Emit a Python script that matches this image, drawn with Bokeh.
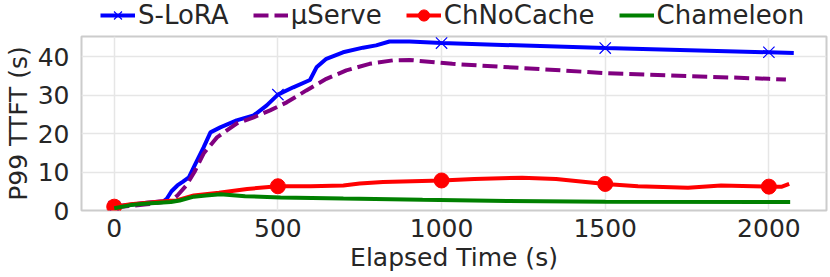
from bokeh.plotting import figure
from bokeh.layouts import column
from bokeh.models import Range1d, Legend, LegendItem
from bokeh.embed import file_html
from bokeh.resources import INLINE

# ---------------- data ----------------
slora_x = [0, 50, 100, 150, 160, 175, 193, 210, 228, 248, 273, 294, 324, 374, 426, 466,
           500, 547, 598, 618, 648, 699, 760, 800, 841, 902, 1000, 1500, 2000, 2076]
slora_y = [1.0, 1.5, 2.0, 2.4, 3.0, 5.0, 6.5, 7.5, 8.6, 12.1, 16.4, 20.3, 21.6, 23.4, 24.7, 27.3,
           30.1, 32.0, 33.9, 37.2, 39.4, 41.1, 42.3, 42.9, 43.9, 43.9, 43.5, 42.2, 41.1, 40.9]

muserve_x = [0, 100, 150, 175, 193, 220, 245, 273, 314, 374, 426, 476, 527, 587, 648, 709,
             780, 851, 902, 1033, 1500, 2000, 2052]
muserve_y = [0.8, 1.6, 2.2, 2.6, 3.9, 6.5, 10.0, 14.8, 19.0, 22.6, 24.2, 26.0, 28.1, 31.2, 34.2, 36.4,
             38.1, 39.0, 39.1, 38.1, 35.7, 34.2, 34.0]

chnocache_x = [0, 50, 100, 150, 190, 243, 320, 406, 500, 600, 700, 750, 821, 1000, 1100, 1246,
               1350, 1500, 1600, 1753, 1854, 2000, 2040, 2062]
chnocache_y = [1.0, 1.6, 2.0, 2.4, 2.6, 3.9, 4.6, 5.6, 6.3, 6.3, 6.5, 7.0, 7.4, 7.8, 8.2, 8.5,
               8.2, 6.9, 6.3, 5.9, 6.5, 6.2, 6.2, 6.9]

chameleon_x = [0, 50, 100, 173, 200, 243, 280, 325, 400, 508, 700, 942, 1200, 1500, 2000, 2065]
chameleon_y = [0.6, 1.4, 1.8, 2.2, 2.6, 3.6, 3.9, 4.2, 3.7, 3.4, 3.1, 2.8, 2.5, 2.3, 2.2, 2.2]

marker_x = [0, 500, 1000, 1500, 2000]
x_ticks = [0, 500, 1000, 1500, 2000]
y_ticks = [0, 10, 20, 30, 40]

series_names = ["S-LoRA", "\u03bcServe", "ChNoCache", "Chameleon"]
series_colors = ["#0000ff", "#800080", "#ff0000", "#008000"]


def pick(xs, ys, keep):
    px, py = [], []
    for a, b in zip(xs, ys):
        if a in keep:
            px.append(a)
            py.append(b)
    return px, py


FONT = "DejaVu Sans"
TXT = "#262626"
LEG_H = 29
BORDER_L = 77
BORDER_R = 4

# ---------------- main plot ----------------
p = figure(width=830, height=277 - LEG_H, output_backend="svg", toolbar_location=None,
           x_range=Range1d(-100, 2176), y_range=Range1d(0, 45.2),
           min_border_left=BORDER_L, min_border_right=BORDER_R,
           min_border_top=36 - LEG_H, min_border_bottom=67)
p.background_fill_color = "white"
p.border_fill_color = "white"
p.outline_line_color = "#cccccc"
p.outline_line_width = 2

p.xaxis.ticker = x_ticks
p.yaxis.ticker = y_ticks
for ax in (p.xaxis[0], p.yaxis[0]):
    ax.axis_line_color = None
    ax.major_tick_line_color = None
    ax.minor_tick_line_color = None
    ax.major_tick_out = 0
    ax.major_tick_in = 0
    ax.minor_tick_out = 0
    ax.minor_tick_in = 0
    ax.major_label_text_font = FONT
    ax.major_label_text_font_size = "25px"
    ax.major_label_text_color = TXT
    ax.axis_label_text_font = FONT
    ax.axis_label_text_font_size = "25px"
    ax.axis_label_text_font_style = "normal"
    ax.axis_label_text_color = TXT

p.xaxis.axis_label = "Elapsed Time (s)"
p.yaxis.axis_label = "P99 TTFT (s)"
p.xaxis.major_label_standoff = 8
p.xaxis.axis_label_standoff = 3
p.yaxis.major_label_standoff = 12
p.yaxis.axis_label_standoff = 2

p.xgrid.grid_line_color = "#e6e6e6"
p.ygrid.grid_line_color = "#e6e6e6"
p.xgrid.grid_line_width = 1.5
p.ygrid.grid_line_width = 1.5


def draw_series(fig):
    l1 = fig.line(slora_x, slora_y, line_color=series_colors[0], line_width=4)
    mx, my = pick(slora_x, slora_y, marker_x)
    m1 = fig.scatter(mx, my, marker="x", size=16, line_color=series_colors[0], line_width=1.2)
    l2 = fig.line(muserve_x, muserve_y, line_color=series_colors[1], line_width=4, line_dash="15 6")
    l3 = fig.line(chnocache_x, chnocache_y, line_color=series_colors[2], line_width=4)
    cx, cy = pick(chnocache_x, chnocache_y, marker_x)
    m3 = fig.scatter(cx, cy, marker="circle", size=15, fill_color=series_colors[2],
                     line_color=series_colors[2])
    l4 = fig.line(chameleon_x, chameleon_y, line_color=series_colors[3], line_width=4)
    return [[l1, m1], [l2], [l3, m3], [l4]]


draw_series(p)

# ---------------- legend strip above the plot ----------------
# same series, drawn in a strip whose ranges show none of them; only its legend is visible
lg = figure(width=830, height=LEG_H, output_backend="svg", toolbar_location=None,
            x_range=Range1d(-3, -2), y_range=Range1d(-3, -2),
            x_axis_location=None, y_axis_location=None,
            min_border_left=BORDER_L, min_border_right=BORDER_R,
            min_border_top=0, min_border_bottom=0)
lg.grid.visible = False
lg.outline_line_color = None
lg.background_fill_color = "white"
lg.border_fill_color = "white"

leg_renderers = draw_series(lg)

legend = Legend(items=[LegendItem(label=n, renderers=r)
                       for n, r in zip(series_names, leg_renderers)],
                orientation="horizontal", location="left")
legend.label_text_font = FONT
legend.label_text_font_size = "26px"
legend.label_text_color = TXT
legend.glyph_width = 35
legend.glyph_height = 28
legend.label_height = 28
legend.label_standoff = 3
legend.spacing = 24
legend.padding = 0
legend.margin = 19
legend.border_line_alpha = 0
legend.background_fill_alpha = 0
lg.add_layout(legend)

layout = column(lg, p, spacing=0)
open("out.html", "w").write(file_html(layout, INLINE))
